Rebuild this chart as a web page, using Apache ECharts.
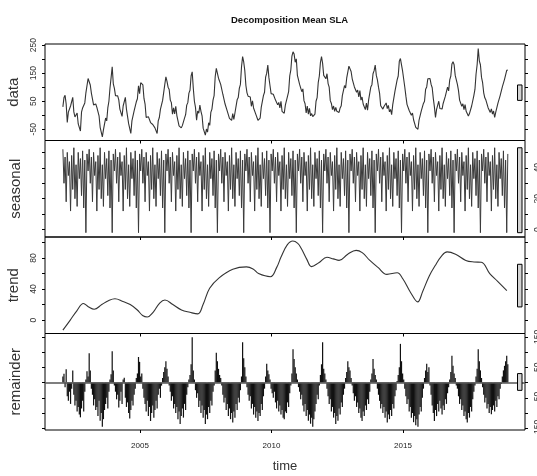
<!DOCTYPE html>
<html><head><meta charset="utf-8">
<script src="https://cdn.jsdelivr.net/npm/echarts@6/dist/echarts.min.js"></script>
<style>html,body{margin:0;padding:0;background:#fff}#c{width:537px;height:476px}</style>
</head><body><div id="c"></div>
<script>
// ---- data ----
const startYear = 2002.07;   // first observation
const perYear = 24;          // observations per year (half-monthly)
const dataValues = [
 30,63,71,40,-26,11,5,33,34,64,12,-6,0,8,-31,-30,-56,11,26,33,44,80,87,131,
 128,108,79,80,37,42,40,28,24,-2,-43,-49,-77,-52,-46,-10,-20,26,50,98,134,173,112,96,
 70,68,69,55,22,16,-4,33,39,64,22,21,-30,-37,-65,-20,-18,16,14,48,59,105,77,116,
 119,108,60,40,-8,-6,-5,-7,-26,-20,-33,-34,-45,-42,-65,-20,-8,21,20,53,59,110,137,121,
 100,92,54,45,4,26,5,32,-1,-5,-38,-35,-45,-37,-42,-10,2,36,45,79,89,140,155,96,
 50,28,-18,15,7,36,14,-2,-46,-50,-71,-49,-60,-27,-36,10,22,54,70,138,167,160,132,131,
 110,103,74,70,40,41,15,18,-11,-8,-18,6,-15,8,14,55,63,96,110,173,209,190,159,106,
 80,68,64,65,32,51,26,28,4,10,-18,-12,-10,28,34,70,82,136,150,179,134,105,77,81,
 75,74,54,60,37,46,26,50,14,16,7,36,35,68,84,140,162,211,226,218,189,201,142,126,
 110,108,84,94,52,41,8,33,4,25,-2,6,-5,-12,4,50,63,116,140,188,209,185,142,149,
 130,148,113,100,52,42,20,33,14,28,14,21,10,26,34,70,72,106,97,133,134,175,179,156,
 130,123,101,105,82,90,65,88,54,65,40,46,20,43,18,55,62,101,109,148,159,179,142,126,
 100,78,34,28,22,31,25,44,24,35,12,21,2,38,44,85,87,126,140,193,202,196,157,161,
 100,68,39,45,17,24,0,8,-16,-14,-43,-42,-50,-17,-18,15,12,42,50,93,101,130,123,131,
 110,98,60,30,-8,21,20,50,24,30,22,42,40,68,69,100,87,126,140,183,191,180,142,137,
 110,88,54,58,32,41,20,38,14,20,-3,6,0,33,39,70,92,146,180,238,194,180,135,116,
 80,62,54,55,27,30,10,23,4,15,-8,11,10,43,44,70,67,101,97,128,129,160,161
];
const seasonalValues = [
 52,30,47,18,50,35,44,12,48,26,53,20,42,15,50,33,46,22,51,14,45,-2,49,38,
 52,30,47,18,50,35,44,12,48,26,53,20,42,15,50,33,46,22,51,14,45,-2,49,38,
 52,30,47,18,50,35,44,12,48,26,53,20,42,15,50,33,46,22,51,14,45,-2,49,38,
 52,30,47,18,50,35,44,12,48,26,53,20,42,15,50,33,46,22,51,14,45,-2,49,38,
 52,30,47,18,50,35,44,12,48,26,53,20,42,15,50,33,46,22,51,14,45,-2,49,38,
 52,30,47,18,50,35,44,12,48,26,53,20,42,15,50,33,46,22,51,14,45,-2,49,38,
 52,30,47,18,50,35,44,12,48,26,53,20,42,15,50,33,46,22,51,14,45,-2,49,38,
 52,30,47,18,50,35,44,12,48,26,53,20,42,15,50,33,46,22,51,14,45,-2,49,38,
 52,30,47,18,50,35,44,12,48,26,53,20,42,15,50,33,46,22,51,14,45,-2,49,38,
 52,30,47,18,50,35,44,12,48,26,53,20,42,15,50,33,46,22,51,14,45,-2,49,38,
 52,30,47,18,50,35,44,12,48,26,53,20,42,15,50,33,46,22,51,14,45,-2,49,38,
 52,30,47,18,50,35,44,12,48,26,53,20,42,15,50,33,46,22,51,14,45,-2,49,38,
 52,30,47,18,50,35,44,12,48,26,53,20,42,15,50,33,46,22,51,14,45,-2,49,38,
 52,30,47,18,50,35,44,12,48,26,53,20,42,15,50,33,46,22,51,14,45,-2,49,38,
 52,30,47,18,50,35,44,12,48,26,53,20,42,15,50,33,46,22,51,14,45,-2,49,38,
 52,30,47,18,50,35,44,12,48,26,53,20,42,15,50,33,46,22,51,14,45,-2,49,38,
 52,30,47,18,50,35,44,12,48,26,53,20,42,15,50,33,46,22,51,14,45,-2,49
];
const remainderValues = [
 20,29,-15,44,-45,-60,-30,-70,-20,40,-40,-75,-60,-95,-80,-105,-114,-85,-60,-95,-30,10,37,20,
 96,40,-20,-40,-75,-55,-90,-80,-110,-60,-125,-100,-145,-120,-90,-70,-50,-85,-30,10,27,103,40,-10,
 -30,-55,-40,-82,-60,-30,-70,10,16,-50,-80,-65,-100,-118,-90,-60,-75,-40,-20,15,30,84,68,20,
 30,-20,-50,-70,-95,-60,-110,-80,-126,-100,-75,-115,-90,-60,-85,-40,-20,-50,-10,15,35,50,70,45,
 20,-10,-30,-60,-45,-85,-70,-100,-80,-120,-95,-136,-110,-85,-115,-70,-90,-40,-15,10,25,60,149,40,
 10,-25,-50,-35,-80,-60,-100,-75,-115,-90,-136,-105,-120,-80,-100,-60,-75,-30,-10,40,98,70,45,25,
 15,-10,-40,-65,-50,-90,-70,-110,-85,-120,-100,-131,-95,-115,-70,-90,-50,-65,-25,20,132,80,50,20,
 -15,-40,-60,-45,-85,-70,-105,-80,-115,-95,-126,-100,-110,-70,-90,-45,-20,20,62,40,27,10,-20,-35,
 -50,-30,-65,-85,-60,-95,-75,-105,-90,-115,-120,-95,-100,-65,-80,-35,-10,30,109,77,50,30,10,-15,
 -30,-55,-40,-75,-95,-70,-110,-90,-125,-105,-135,-115,-145,-120,-95,-70,-40,-55,-10,25,60,132,45,30,
 10,-20,-45,-70,-55,-95,-80,-115,-100,-136,-110,-125,-85,-105,-65,-80,-40,-20,15,35,70,50,40,15,
 -10,-35,-60,-45,-80,-65,-100,-85,-115,-126,-95,-110,-75,-90,-55,-70,-30,10,30,77,45,25,10,-20,
 -40,-60,-85,-70,-100,-80,-115,-95,-131,-105,-120,-90,-110,-70,-85,-45,-25,5,25,50,127,70,30,10,
 -20,-45,-70,-55,-95,-80,-115,-100,-130,-110,-140,-120,-145,-105,-80,-95,-50,-20,15,40,62,35,50,-10,
 -40,-75,-100,-126,-90,-110,-70,-95,-60,-85,-105,-75,-90,-55,-70,-35,-15,10,35,88,55,30,15,-10,
 -20,-45,-70,-55,-90,-75,-110,-95,-120,-131,-100,-115,-80,-95,-55,-30,-10,20,45,109,70,40,15,-15,
 -40,-65,-50,-85,-70,-100,-80,-104,-90,-75,-95,-60,-80,-45,-55,-20,-5,20,40,55,70,88,60
];
const trendYears = [2002.07,2002.35,2002.6,2002.85,2003.05,2003.26,2003.55,2003.8,2004.05,2004.35,2004.63,2004.9,2005.1,2005.28,2005.5,2005.75,2005.95,2006.25,2006.58,2006.9,2007.2,2007.4,2007.65,2008.01,2008.53,2009.05,2009.3,2009.51,2009.96,2010.2,2010.36,2010.6,2010.81,2011.0,2011.14,2011.35,2011.52,2011.8,2012.11,2012.35,2012.57,2012.9,2013.22,2013.45,2013.74,2014.05,2014.39,2014.78,2015.0,2015.3,2015.56,2015.75,2016.0,2016.22,2016.45,2016.68,2017.0,2017.39,2017.7,2017.98,2018.3,2018.6,2018.95];
const trendValues = [-13,0,12,21.5,17,14,20,25,27.5,24,20,13,6,4,10,22,26,20,13,10,8,20,41,54.5,65.6,68.7,66,60,56,68,81,97,102,99,92,78,69,74,81,79,77,85,90,87,77,68,59,61,53,35,23.5,37,57,70,82,88,85,77,75,74.6,60,50,38];
const panelNames = ['data', 'seasonal', 'trend', 'remainder'];
const xTickYears = [2005, 2010, 2015];
const yTickValues = [[-50,0,50,100,150,200,250],[0,10,20,30,40,50],[0,20,40,60,80,100],[-150,-100,-50,0,50,100,150]];
const yTickLabels = [[-50,50,150,250],[0,20,40],[0,40,80],[-150,-50,50,150]];
const yExtents = [[-90,254],[-4.8,57.7],[-17.3,107.2],[-155.6,161]];
const xExtent = [2001.39, 2019.64];

// ---- build ----
const times = dataValues.map((_, i) => +(startYear + i / perYear).toFixed(4));
const pairs = vals => vals.map((v, i) => [times[i], v]);
const seriesValues = [dataValues, seasonalValues, trendValues, remainderValues];
const ranges = seriesValues.map(v => [Math.min(...v), Math.max(...v)]);
const minRange = Math.min(...ranges.map(r => r[1] - r[0]));

const sans = "'Liberation Sans',Arial,sans-serif";
const gridTops = [44, 140.5, 237, 333.5];
const grids = gridTops.map(t => ({left: 45, right: 12, top: t, height: 96.5, show: true,
  containLabel: false, outerBoundsMode: 'none',
  borderColor: '#000', borderWidth: 1, backgroundColor: 'transparent'}));

const xAxes = gridTops.map((_, g) => ({
  type: 'value', gridIndex: g, min: xExtent[0], max: xExtent[1],
  axisLine: {show: false, onZero: false}, splitLine: {show: false},
  axisTick: {show: true, customValues: xTickYears, length: 3, lineStyle: {color: '#000'}},
  axisLabel: {show: g === 3, customValues: xTickYears, fontSize: 8, color: '#222',
    fontFamily: sans, margin: 12, formatter: v => String(Math.round(v))},
  name: g === 3 ? 'time' : '', nameLocation: 'middle', nameGap: 30,
  nameTextStyle: {fontSize: 13, color: '#333', fontFamily: sans}
}));

const yAxes = [];
gridTops.forEach((_, g) => {
  ['left', 'right'].forEach(side => {
    const showLab = (side === 'left') === (g % 2 === 0);
    yAxes.push({
      type: 'value', gridIndex: g, position: side, min: yExtents[g][0], max: yExtents[g][1],
      axisLine: {show: false}, splitLine: {show: false},
      axisTick: {show: true, customValues: yTickValues[g], length: 3, lineStyle: {color: '#000'}},
      axisLabel: {show: showLab, customValues: yTickLabels[g], rotate: 90, fontSize: 8.5,
        color: '#333', margin: side === 'left' ? 7 : 8, fontFamily: sans},
      name: side === 'left' ? panelNames[g] : '', nameLocation: 'middle', nameRotate: 90, nameGap: 22,
      nameTextStyle: {fontSize: 15, color: '#333', fontFamily: sans}
    });
  });
});

function rangeBar(g) {
  const mid = (ranges[g][0] + ranges[g][1]) / 2;
  const dx = (xExtent[1] - xExtent[0]) / 64;
  return {
    type: 'custom', xAxisIndex: g, yAxisIndex: g * 2, clip: false, silent: true, z: 5,
    data: [[xExtent[1] - dx, mid]],
    renderItem: (params, api) => {
      const p0 = api.coord([xExtent[1] - dx, mid + minRange / 2]);
      const p1 = api.coord([xExtent[1] - 0.4 * dx, mid - minRange / 2]);
      return {type: 'rect', shape: {x: p0[0], y: p0[1], width: p1[0] - p0[0], height: p1[1] - p0[1]},
        style: {fill: '#d3d3d3', stroke: '#000', lineWidth: 1}};
    }
  };
}

const lineStyle = {color: '#333', width: 1.1};
const series = [
  {type: 'line', xAxisIndex: 0, yAxisIndex: 0, data: pairs(dataValues), showSymbol: false, lineStyle},
  {type: 'line', xAxisIndex: 1, yAxisIndex: 2, data: pairs(seasonalValues), showSymbol: false,
    lineStyle: {color: '#3a3a3a', width: 1}},
  {type: 'line', xAxisIndex: 2, yAxisIndex: 4, data: trendYears.map((t, i) => [t, trendValues[i]]),
    showSymbol: false, smooth: 0.4, lineStyle},
  {type: 'bar', xAxisIndex: 3, yAxisIndex: 6, data: pairs(remainderValues), barWidth: 1.2,
    itemStyle: {color: '#111'},
    markLine: {symbol: 'none', silent: true, label: {show: false}, data: [{yAxis: 0}],
      lineStyle: {color: '#555', width: 1.5, type: 'solid'}}},
  rangeBar(0), rangeBar(1), rangeBar(2), rangeBar(3)
];

const chart = echarts.init(document.getElementById('c'), null, {renderer: 'canvas'});
chart.setOption({
  animation: false,
  backgroundColor: '#fff',
  title: {text: 'Decomposition Mean SLA', left: 226, top: 10,
    textStyle: {fontSize: 9.5, fontWeight: 'bold', color: '#111', fontFamily: sans}},
  grid: grids, xAxis: xAxes, yAxis: yAxes, series
});
</script></body></html>
